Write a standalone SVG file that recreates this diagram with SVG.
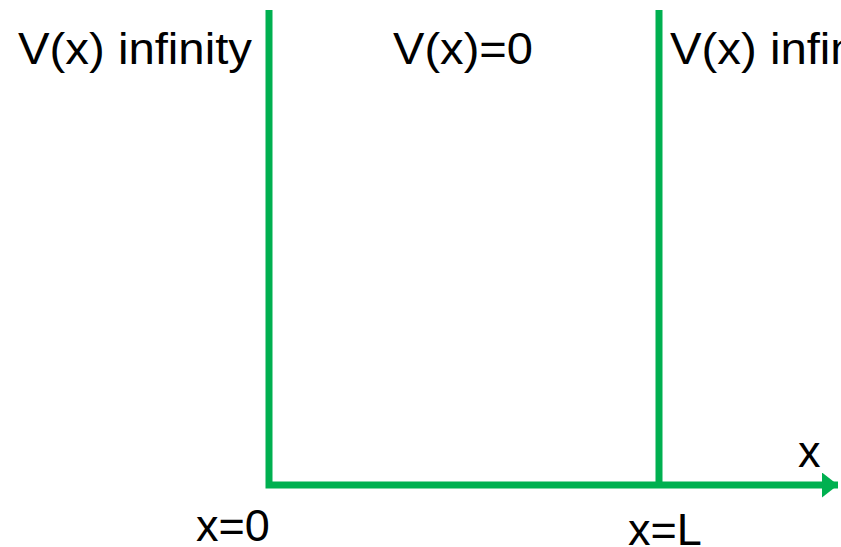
<svg xmlns="http://www.w3.org/2000/svg" width="841" height="547" viewBox="0 0 841 547">
<style>
.t{font-family:"Liberation Sans",Arial,sans-serif;font-size:45px;fill:#000}
.w{stroke:#00b050;stroke-width:7;fill:none}
</style>
<defs>
<marker id="ah" markerUnits="userSpaceOnUse" markerWidth="17" markerHeight="26" refX="16" refY="12.5" orient="auto" viewBox="0 0 17 26">
<path d="M0,0 L16,12.5 L0,25 Z" fill="#00b050"/>
</marker>
</defs>
<rect width="841" height="547" fill="#fff"/>
<g id="connectors">
<path class="w" d="M269,10 V485 H838" marker-end="url(#ah)"/>
<path class="w" d="M659,10 V485"/>
</g>
<g id="label-left"><text class="t" x="18" y="64" textLength="234" lengthAdjust="spacingAndGlyphs">V(x) infinity</text></g>
<g id="label-mid"><text class="t" x="393" y="64" textLength="140" lengthAdjust="spacingAndGlyphs">V(x)=0</text></g>
<g id="label-right"><text class="t" x="670" y="64" textLength="234" lengthAdjust="spacingAndGlyphs">V(x) infinity</text></g>
<g id="label-x"><text class="t" x="798" y="467">x</text></g>
<g id="label-x0"><text class="t" x="196" y="541">x=0</text></g>
<g id="label-xL"><text class="t" x="628" y="545">x=L</text></g>
</svg>
